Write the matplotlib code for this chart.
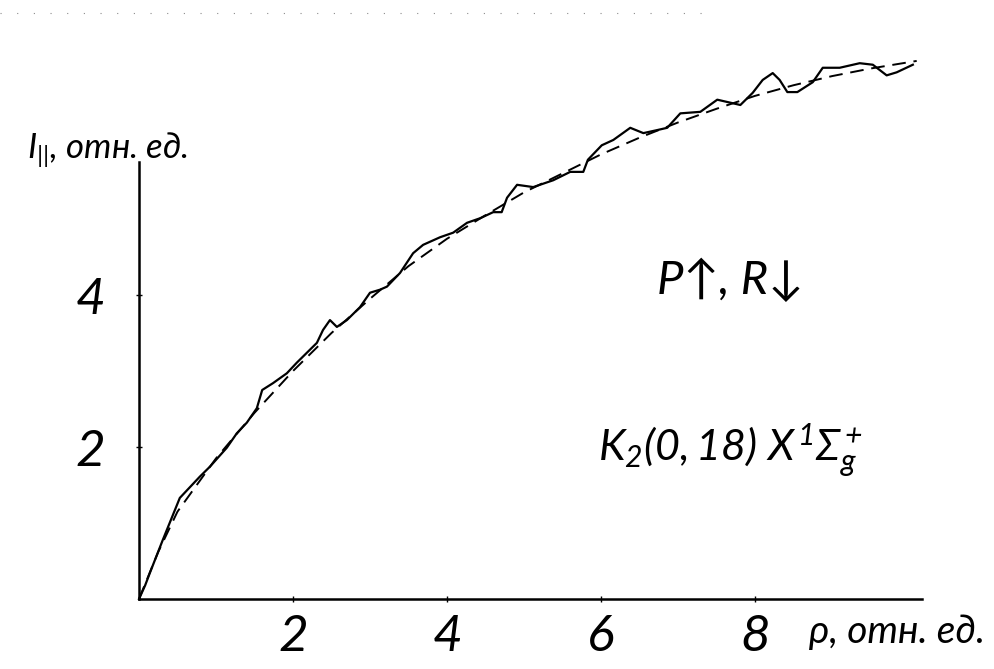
import matplotlib.pyplot as plt

# measured intensity (solid, noisy trace)
rho_exp = [0.00, 0.08, 0.14, 0.31, 0.53, 0.79, 0.92, 1.14, 1.27, 1.40, 1.53, 1.60,
           1.74, 1.92, 2.05, 2.18, 2.31, 2.39, 2.48, 2.57, 2.70, 2.87, 3.00, 3.13,
           3.22, 3.39, 3.56, 3.69, 3.91, 4.08, 4.26, 4.43, 4.60, 4.71, 4.78, 4.91,
           5.12, 5.38, 5.60, 5.77, 5.83, 6.01, 6.16, 6.38, 6.55, 6.73, 6.86, 7.03,
           7.29, 7.51, 7.81, 7.97, 8.10, 8.23, 8.32, 8.42, 8.55, 8.75, 8.88, 9.10,
           9.36, 9.53, 9.71, 9.84, 10.05]
i_exp = [0.00, 0.18, 0.34, 0.78, 1.33, 1.61, 1.74, 1.99, 2.18, 2.32, 2.51, 2.75,
         2.84, 2.97, 3.11, 3.24, 3.37, 3.54, 3.67, 3.58, 3.67, 3.84, 4.03, 4.07,
         4.11, 4.29, 4.55, 4.66, 4.76, 4.82, 4.95, 5.01, 5.09, 5.09, 5.28, 5.45,
         5.42, 5.51, 5.62, 5.62, 5.78, 5.97, 6.04, 6.20, 6.13, 6.17, 6.20, 6.39,
         6.41, 6.57, 6.50, 6.66, 6.83, 6.92, 6.83, 6.67, 6.67, 6.80, 6.99, 6.99,
         7.05, 7.03, 6.89, 6.93, 7.03]

# calculated curve (dashed)
rho_fit = [0.0, 0.25, 0.5, 1.0, 1.5, 2.0, 2.5, 3.0, 3.5, 4.0, 4.5, 5.0, 5.5,
           6.0, 6.5, 7.0, 7.5, 8.0, 8.5, 9.0, 9.5, 10.1]
i_fit = [0.0, 0.62, 1.15, 1.85, 2.45, 3.00, 3.50, 3.95, 4.38, 4.74, 5.05, 5.35,
         5.60, 5.85, 6.07, 6.27, 6.45, 6.62, 6.76, 6.88, 6.98, 7.08]

x_ticks = [2, 4, 6, 8]
y_ticks = [2, 4]
x_end, y_end = 10.17, 5.75

plt.rcParams['font.family'] = ['Lato', 'DejaVu Sans']
plt.rcParams['font.style'] = 'italic'
plt.rcParams['mathtext.fontset'] = 'custom'
plt.rcParams['mathtext.it'] = 'Lato:italic'
plt.rcParams['mathtext.rm'] = 'Lato:italic'
plt.rcParams['mathtext.sf'] = 'Lato:italic'

fig = plt.figure(figsize=(9.94, 6.69), dpi=100)
ax = fig.add_axes([0, 0, 1, 1])
ax.set_xlim(-139 / 77, (994 - 139) / 77)
ax.set_ylim(-70 / 76, 599 / 76)

ax.plot(rho_exp, i_exp, color='k', lw=1.6, solid_joinstyle='round')
ax.plot(rho_fit, i_fit, color='k', lw=1.4, dashes=(7, 4))

for side in ['top', 'right']:
    ax.spines[side].set_visible(False)
ax.spines['left'].set_position(('data', 0))
ax.spines['bottom'].set_position(('data', 0))
ax.spines['left'].set_bounds(0, y_end)
ax.spines['bottom'].set_bounds(0, x_end)
for side in ['left', 'bottom']:
    ax.spines[side].set_linewidth(1.8)

ax.set_xticks(x_ticks)
ax.set_xticklabels([str(t) for t in x_ticks])
ax.set_yticks(y_ticks)
ax.set_yticklabels([str(t) for t in y_ticks])
ax.tick_params(axis='both', direction='inout', length=5, width=1, labelsize=37)
ax.tick_params(axis='x', pad=8)
ax.tick_params(axis='y', pad=22)

ax.text(-1.45, 5.9, r'$I_{||}$, отн. ед.', fontsize=25, va='center', ha='left')
ax.text(8.7, -0.43, 'ρ, отн. ед.', fontsize=28, va='center', ha='left')
ax.text(7.68, 4.2, 'P↑, R↓', fontsize=34, va='center', ha='center')
ax.text(7.68, 1.96, r'$K_2(0,18)\ X^1\Sigma_g^+$', fontsize=31, va='center', ha='center')

# faint scan border along the top
ax.axhline(7.71, xmin=0, xmax=0.72, color='0.55', lw=0.8, ls=(0, (1, 14)))

fig.savefig('out.png', dpi=100)
